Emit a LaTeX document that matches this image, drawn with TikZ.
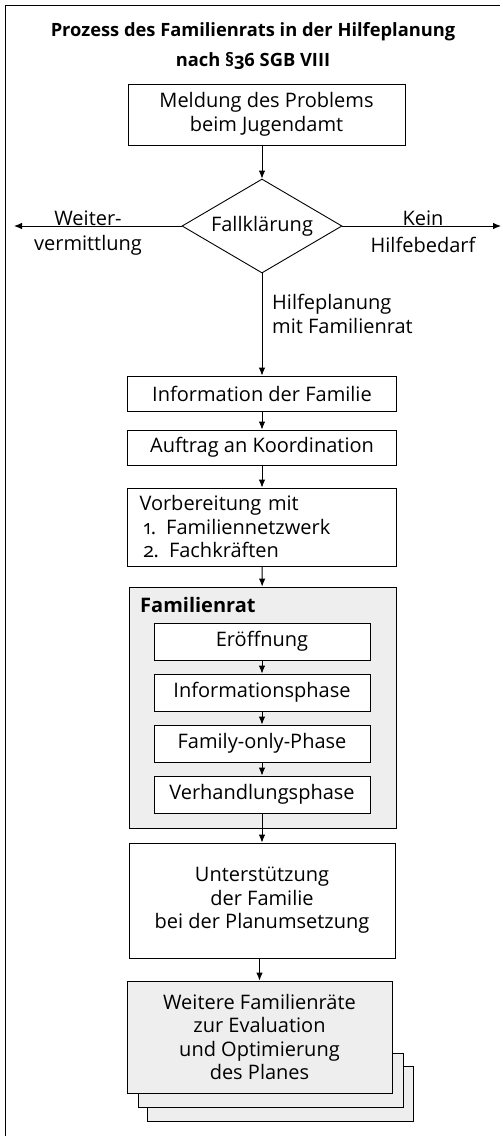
\documentclass[tikz,border=0pt]{standalone}
\usepackage{fontspec}
\setmainfont{Open Sans}[Numbers=OldStyle]
\usepackage{tikz}
\usetikzlibrary{shapes.geometric, arrows.meta}
\definecolor{boxgray}{HTML}{EEEEEE}
\tikzstyle{block} = [rectangle, draw, fill=white, line width=0.9pt,
    align=center, inner sep=0pt]
\tikzstyle{rat} = [block, fill=boxgray]
\tikzstyle{decision} = [diamond, draw, line width=0.9pt, aspect=1.7,
    inner sep=0pt, minimum width=160pt, minimum height=94pt]
\tikzstyle{line} = [draw, line width=0.9pt, -{Latex[length=8pt,width=6.5pt]}]
\tikzstyle{lbl} = [inner sep=0pt, align=center]
\newcommand{\boxfont}{\fontsize{20}{23.5}\selectfont}

\begin{document}
\begin{tikzpicture}[x=1pt, y=-1pt, font=\boxfont]
                \useasboundingbox (0,0) rectangle (503,1136);
                \draw [line width=0.9pt] (500,5.5) -- (5.5,5.5) -- (5.5,1136);
                \node [lbl, font=\fontsize{18.3}{30}\selectfont\bfseries] at (253,46) (title)
                    {Prozess des Familienrats in der Hilfeplanung\\nach \S36 SGB VIII};
                \node [block, minimum width=277pt, minimum height=61pt] at (266.5,114.5) (meldung)
                    {Meldung des Problems\\beim Jugendamt};
                \node [decision] at (262,226) (fall) {Fallkl\"arung};
                \coordinate (weiter) at (14,226);
                \coordinate (kein) at (501,226);
                \node [lbl] at (88,218) {Weiter-};
                \node [lbl] at (88,245) {vermittlung};
                \node [lbl] at (423,218) {Kein};
                \node [lbl] at (423,245) {Hilfebedarf};
                \node [lbl, anchor=west, align=left] at (272,314) {Hilfeplanung\\mit Familienrat};
                \node [block, minimum width=269pt, minimum height=35pt] at (262,393.5) (info)
                    {Information der Familie};
                \node [block, minimum width=269pt, minimum height=35pt] at (262,447.5) (auftrag)
                    {Auftrag an Koordination};
                \node [block, minimum width=269pt, minimum height=78pt, text width=245pt, align=left]
                    at (262,527) (vorb)
                    {Vorbereitung mit\\\hspace*{4pt}1. Familiennetzwerk\\\hspace*{4pt}2. Fachkr\"aften};
                \node [rat, minimum width=267pt, minimum height=241pt] at (262.5,707.5) (rat) {};
                \node [lbl, anchor=west, font=\boxfont\bfseries] at (140,605) {Familienrat};
                \node [block, minimum width=216pt, minimum height=37pt] at (262,641.5) (eroeff)
                    {Er\"offnung};
                \node [block, minimum width=216pt, minimum height=37pt] at (262,692.5) (infophase)
                    {Informationsphase};
                \node [block, minimum width=216pt, minimum height=37pt] at (262,743.5) (familyonly)
                    {Family-only-Phase};
                \node [block, minimum width=216pt, minimum height=37pt] at (262,794.5) (verhandlung)
                    {Verhandlungsphase};
                \node [block, minimum width=266pt, minimum height=115pt] at (262,900.5) (unterst)
                    {Unterst\"utzung\\der Familie\\bei der Planumsetzung};
                \draw [line width=0.9pt, fill=boxgray] (147,1066) rectangle (413,1121);
                \draw [line width=0.9pt, fill=boxgray] (138,1053) rectangle (403,1107);
                \node [rat, minimum width=265pt, minimum height=112pt] at (259.5,1037) (weitere)
                    {Weitere Familienr\"ate\\zur Evaluation\\und Optimierung\\des Planes};
                \path [line] (meldung.south -| fall.north) -- (fall.north);
                \path [line] (fall.west) -- (weiter);
                \path [line] (fall.east) -- (kein);
                \path [line] (fall.south) -- (info.north);
                \path [line] (info) -- (auftrag);
                \path [line] (auftrag) -- (vorb);
                \path [line] (vorb) -- (rat);
                \path [line] (eroeff) -- (infophase);
                \path [line] (infophase) -- (familyonly);
                \path [line] (familyonly) -- (verhandlung);
                \path [line] (verhandlung) -- (unterst);
                \path [line] (unterst.south -| weitere.north) -- (weitere.north);
            \end{tikzpicture}
\end{document}
